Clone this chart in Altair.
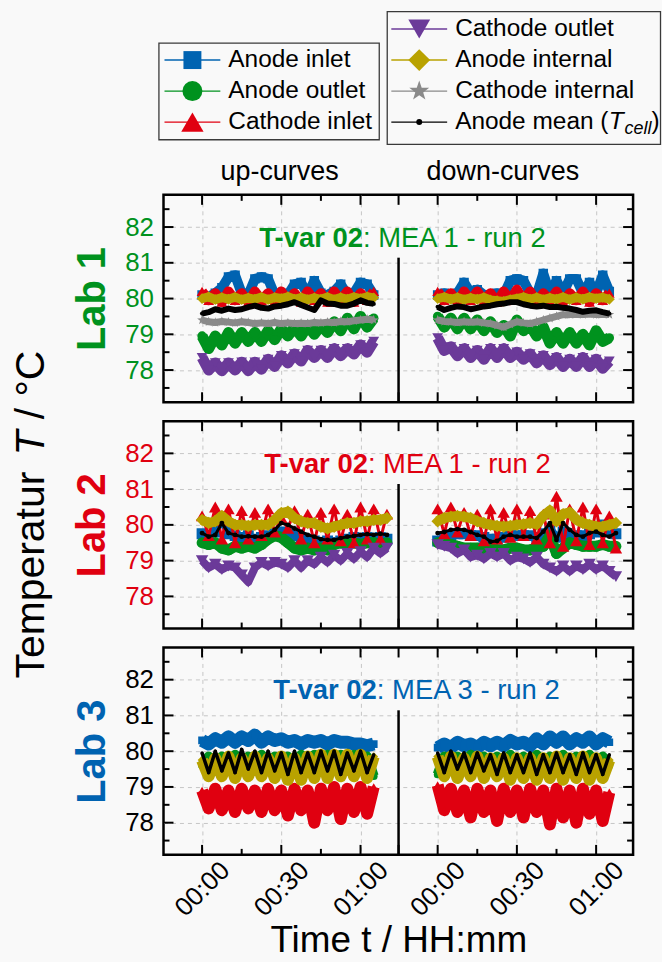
import altair as alt
import pandas as pd

FONT = "Liberation Sans"

# ---------------- series definitions ----------------
SERIES = ["Anode inlet", "Anode outlet", "Cathode inlet", "Cathode outlet",
          "Anode internal", "Cathode internal", "Anode mean"]
LEGEND_LABELS = ["Anode inlet", "Anode outlet", "Cathode inlet", "Cathode outlet",
                 "Anode internal", "Cathode internal", "Anode mean ("]
COLORS = ["#0063b1", "#00921e", "#e00010", "#6b3a99", "#b9a200", "#8a8a8a", "#000000"]
STAR = ("M0,-1L0.235,-0.324L0.951,-0.309L0.38,0.124L0.588,0.809L0,0.4"
        "L-0.588,0.809L-0.38,0.124L-0.951,-0.309L-0.235,-0.324Z")
SHAPES = ["square", "circle", "triangle-up", "triangle-down", "diamond", STAR, "circle"]
SIZE_FACTOR = [1.0, 1.0, 1.3, 1.3, 1.3, 1.2, 0.2]
LEG_SIZES = [324, 400, 500, 480, 480, 440, 36]

LAB_NAMES = ["Lab 1", "Lab 2", "Lab 3"]
LAB_COLORS = ["#00921e", "#e00010", "#0063b1"]
TICK_LABEL_COLORS = ["#00921e", "#e00010", "#000000"]
ANNOT_BOLD = ["T-var 02", "T-var 02", "T-var 02"]
ANNOT_REG = [": MEA 1 - run 2", ": MEA 1 - run 2", ": MEA 3 - run 2"]
HEADERS = ["up-curves", "down-curves"]
Y_TITLE = ["Temperatur", "T", "/ °C"]
X_TITLE = "Time t / HH:mm"

# ---------------- time stamps (minutes) ----------------
T_L1 = [0, 2.5, 5, 7.5, 10, 12.5, 15, 17.5, 20, 22.5, 25, 27.5, 30, 32.5, 35,
        37.5, 40, 42.5, 45, 47.5, 50, 52.5, 55, 57.5, 60, 62.5, 65]
T_L2_UP = [0, 2.5, 5, 7.5, 10, 12.5, 15, 17.5, 20, 22.5, 25, 27.5, 30, 32.5, 35,
           37.5, 40, 42.5, 45, 47.5, 50, 52.5, 55, 57.5, 60, 62.5, 65, 67.5, 70]
T_L2_DOWN = [0, 2.5, 5, 7.5, 10, 12.5, 15, 17.5, 20, 22.5, 25, 27.5, 30, 32.5, 35,
             37.5, 40, 42.5, 45, 47.5, 50, 52.5, 55, 57.5, 60, 62.5, 65, 67.5]
T_L3 = [0, 2.5, 5, 7.5, 10, 12.5, 15, 17.5, 20, 22.5, 25, 27.5, 30, 32.5, 35,
        37.5, 40, 42.5, 45, 47.5, 50, 52.5, 55, 57.5, 60, 62.5, 65]

# ---------------- Lab 1 ----------------
L1_UP_ANODE_IN = [80.1, 80.05, 80.15, 80.3, 80.6, 80.65, 80.15, 80.1, 80.55, 80.6, 80.55, 80.1, 80.15, 80.1,
                  80.4, 80.45, 80.1, 80.5, 80.15, 80.1, 80.2, 80.4, 80.1, 80.15, 80.45, 80.4, 80.1]
L1_UP_ANODE_OUT = [78.95, 78.6, 78.95, 78.7, 79.05, 78.75, 79.05, 78.8, 79.05, 78.8, 79.1, 78.85, 79.15, 78.95,
                   79.2, 78.95, 79.25, 79.0, 79.25, 79.05, 79.35, 79.1, 79.45, 79.15, 79.5, 79.2, 79.45]
L1_UP_CATH_IN = [80.2, 79.95, 80.15, 79.9, 80.2, 79.95, 80.15, 79.9, 80.2, 79.95, 80.15, 79.9, 80.2, 79.95,
                 80.15, 79.9, 80.2, 79.95, 80.15, 79.9, 80.2, 79.95, 80.2, 79.9, 80.15, 79.95, 80.2]
L1_UP_CATH_OUT = [78.35, 78.0, 78.2, 77.98, 78.2, 78.0, 78.22, 77.98, 78.22, 78.02, 78.3, 78.1, 78.4, 78.2,
                  78.45, 78.25, 78.55, 78.35, 78.55, 78.35, 78.6, 78.4, 78.6, 78.45, 78.7, 78.5, 78.8]
L1_UP_ANODE_INT = [80.0, 80.05, 79.97, 80.03, 79.98, 80.04, 79.97, 80.02, 79.98, 80.04, 79.97, 80.03, 80.0, 80.05,
                   79.98, 80.03, 79.97, 80.02, 79.98, 80.04, 79.97, 80.03, 79.98, 80.04, 80.0, 80.05, 80.02]
L1_UP_CATH_INT = [79.4, 79.35, 79.33, 79.36, 79.34, 79.32, 79.35, 79.33, 79.3, 79.32, 79.3, 79.33, 79.3, 79.32,
                  79.3, 79.31, 79.3, 79.33, 79.32, 79.34, 79.33, 79.36, 79.35, 79.38, 79.4, 79.42, 79.4]
L1_UP_MEAN = [79.58, 79.62, 79.7, 79.66, 79.72, 79.68, 79.7, 79.76, 79.8, 79.74, 79.72, 79.78, 79.8, 79.84,
              79.9, 79.82, 79.75, 79.68, 79.95, 79.86, 79.85, 79.8, 79.8, 79.86, 79.95, 79.88, 79.85]

L1_DOWN_ANODE_IN = [80.1, 80.15, 80.1, 80.15, 80.45, 80.15, 80.25, 80.1, 80.1, 80.15, 80.1, 80.5, 80.55, 80.5,
                    80.15, 80.1, 80.7, 80.15, 80.5, 80.15, 80.55, 80.55, 80.15, 80.45, 80.15, 80.65, 80.2]
L1_DOWN_ANODE_OUT = [79.5, 79.2, 79.45, 79.15, 79.45, 79.15, 79.4, 79.1, 79.35, 79.05, 79.25, 78.95, 79.4, 79.1,
                     79.25, 78.95, 79.2, 78.75, 79.05, 78.75, 79.05, 78.75, 79.0, 78.7, 79.1, 78.8, 78.9]
L1_DOWN_CATH_IN = [80.2, 79.95, 80.15, 79.9, 80.2, 79.95, 80.2, 79.95, 80.15, 79.9, 80.2, 79.95, 80.25, 79.95,
                   80.2, 79.9, 80.15, 79.95, 80.2, 79.9, 80.15, 79.95, 80.2, 79.9, 80.15, 79.95, 80.15]
L1_DOWN_CATH_OUT = [78.9, 78.55, 78.65, 78.4, 78.6, 78.35, 78.55, 78.3, 78.6, 78.35, 78.6, 78.35, 78.5, 78.3,
                    78.45, 78.2, 78.4, 78.15, 78.35, 78.1, 78.3, 78.1, 78.35, 78.1, 78.3, 78.05, 78.25]
L1_DOWN_ANODE_INT = [80.0, 80.04, 79.98, 80.03, 79.97, 80.02, 79.98, 80.03, 79.96, 79.94, 79.92, 79.97, 80.0, 80.04,
                     79.98, 80.03, 79.97, 80.02, 79.98, 80.04, 79.97, 80.03, 79.98, 80.04, 80.0, 80.03, 79.98]
L1_DOWN_CATH_INT = [79.4, 79.36, 79.35, 79.33, 79.35, 79.34, 79.35, 79.32, 79.3, 79.25, 79.2, 79.28, 79.35, 79.32,
                    79.3, 79.35, 79.4, 79.45, 79.5, 79.55, 79.55, 79.56, 79.55, 79.57, 79.55, 79.56, 79.55]
L1_DOWN_MEAN = [79.77, 79.68, 79.74, 79.78, 79.76, 79.7, 79.74, 79.78, 79.8, 79.84, 79.86, 79.9, 79.9, 79.84,
                79.8, 79.78, 79.8, 79.76, 79.77, 79.74, 79.72, 79.68, 79.63, 79.66, 79.67, 79.62, 79.58]

# ---------------- Lab 2 ----------------
L2_UP_ANODE_IN = [79.75, 79.7, 79.8, 80.2, 79.75, 79.7, 79.65, 79.7, 79.6, 79.65, 79.7, 79.75, 79.8, 79.75, 79.7,
                  79.65, 79.6, 79.55, 79.5, 79.55, 79.5, 79.55, 79.6, 79.65, 79.6, 79.65, 79.6, 79.65, 79.6]
L2_UP_ANODE_OUT = [79.5, 79.45, 79.5, 79.35, 79.3, 79.4, 79.35, 79.4, 79.35, 79.45, 79.6, 79.7, 79.65, 79.5, 79.35,
                   79.3, 79.35, 79.3, 79.35, 79.3, 79.45, 79.5, 79.45, 79.5, 79.45, 79.5, 79.5, 79.45, 79.5]
L2_UP_CATH_IN = [80.25, 79.7, 80.5, 79.6, 80.45, 79.5, 80.4, 79.6, 80.35, 79.7, 80.45, 79.8, 80.2, 79.9, 80.4,
                 79.6, 80.3, 79.5, 80.35, 79.6, 80.45, 79.55, 80.3, 79.5, 80.5, 79.6, 80.45, 79.6, 80.3]
L2_UP_CATH_OUT = [79.0, 78.8, 78.9, 78.75, 78.85, 78.8, 78.6, 78.4, 78.8, 78.95, 78.85, 78.95, 78.9, 78.8, 79.0,
                  78.8, 79.0, 78.9, 79.1, 78.95, 79.15, 79.0, 79.2, 79.05, 79.25, 79.1, 79.35, 79.2, 79.35]
L2_UP_ANODE_INT = [80.14, 80.05, 80.1, 80.25, 80.1, 80.0, 80.0, 79.97, 80.0, 80.0, 80.0, 80.14, 80.33, 80.37, 80.19,
                   80.1, 80.05, 80.05, 79.95, 79.9, 79.95, 80.0, 80.05, 80.05, 80.1, 80.1, 80.14, 80.14, 80.19]
L2_UP_CATH_INT = []
L2_UP_MEAN = [79.77, 79.67, 79.72, 80.05, 79.77, 79.72, 79.67, 79.68, 79.67, 79.67, 79.72, 79.86, 80.05, 80.0, 79.9,
              79.81, 79.72, 79.67, 79.6, 79.58, 79.58, 79.63, 79.67, 79.69, 79.72, 79.74, 79.72, 79.75, 79.72]

L2_DOWN_ANODE_IN = [79.55, 79.6, 79.7, 79.75, 79.75, 79.7, 79.7, 79.65, 79.6, 79.6, 79.65, 79.7, 79.7, 79.7,
                    79.7, 79.65, 79.75, 79.9, 79.65, 79.8, 79.75, 79.7, 79.7, 79.75, 79.8, 80.0, 79.8, 79.75]
L2_DOWN_ANODE_OUT = [79.5, 79.5, 79.45, 79.4, 79.35, 79.35, 79.35, 79.3, 79.35, 79.3, 79.3, 79.35, 79.35, 79.3,
                     79.3, 79.35, 79.4, 79.7, 79.2, 79.35, 79.5, 79.45, 79.4, 79.4, 79.4, 79.45, 79.4, 79.4]
L2_DOWN_CATH_IN = [80.45, 79.75, 80.5, 79.8, 80.35, 79.7, 80.3, 79.55, 80.45, 79.6, 80.35, 79.65, 80.45, 79.7,
                   80.4, 79.6, 80.3, 79.5, 80.8, 79.4, 80.45, 79.55, 80.5, 79.45, 80.45, 79.5, 80.25, 79.35]
L2_DOWN_CATH_OUT = [79.45, 79.4, 79.35, 79.2, 79.3, 79.1, 79.15, 79.05, 79.2, 79.1, 79.2, 79.0, 79.1, 79.05,
                    78.95, 79.1, 78.9, 78.8, 78.7, 78.85, 78.7, 78.85, 78.75, 78.9, 78.75, 78.85, 78.7, 78.55]
L2_DOWN_ANODE_INT = [80.1, 80.19, 80.23, 80.25, 80.23, 80.19, 80.1, 80.05, 80.0, 79.97, 79.95, 79.97, 80.0, 80.02,
                     80.05, 80.02, 80.25, 80.4, 80.1, 80.3, 80.35, 80.15, 80.05, 80.0, 79.95, 79.95, 80.0, 80.05]
L2_DOWN_CATH_INT = []
L2_DOWN_MEAN = [79.77, 79.8, 79.86, 79.88, 79.86, 79.8, 79.72, 79.67, 79.53, 79.55, 79.67, 79.72, 79.67, 79.67,
                79.67, 79.63, 79.81, 80.05, 79.58, 80.05, 79.86, 79.72, 79.67, 79.77, 79.81, 79.72, 79.67, 79.77]

# ---------------- Lab 3 ----------------
L3_UP_ANODE_IN = [80.3, 80.2, 80.35, 80.25, 80.4, 80.25, 80.4, 80.3, 80.45, 80.25, 80.4, 80.3, 80.35, 80.25,
                  80.3, 80.2, 80.3, 80.25, 80.3, 80.2, 80.3, 80.25, 80.25, 80.2, 80.2, 80.15, 80.2]
L3_UP_ANODE_OUT = [79.6, 79.85, 79.7, 79.85, 79.7, 79.9, 79.7, 79.85, 79.7, 79.9, 79.7, 79.85, 79.7, 79.85,
                   79.7, 79.9, 79.7, 79.9, 79.7, 79.9, 79.7, 79.9, 79.7, 79.9, 79.7, 79.85, 79.3]
L3_UP_CATH_IN = [78.9, 78.4, 78.95, 78.35, 78.9, 78.3, 78.95, 78.4, 78.9, 78.3, 78.95, 78.35, 78.9, 78.2,
                 78.95, 78.35, 78.9, 78.0, 78.95, 78.35, 79.0, 78.1, 78.95, 78.3, 79.0, 78.25, 79.0]
L3_UP_CATH_OUT = []
L3_UP_ANODE_INT = [79.75, 79.3, 79.8, 79.3, 79.85, 79.25, 79.8, 79.3, 79.85, 79.3, 79.8, 79.25, 79.85, 79.2,
                   79.8, 79.2, 79.85, 79.25, 79.9, 79.25, 79.9, 79.3, 79.9, 79.3, 79.9, 79.25, 79.85]
L3_UP_CATH_INT = []
L3_UP_MEAN = [79.95, 79.4, 80.0, 79.45, 79.95, 79.4, 80.05, 79.5, 80.0, 79.4, 80.0, 79.45, 79.95, 79.35,
              80.0, 79.4, 79.95, 79.4, 80.0, 79.45, 80.0, 79.35, 79.95, 79.45, 80.0, 79.4, 79.9]

L3_DOWN_ANODE_IN = [80.1, 80.2, 80.1, 80.25, 80.15, 80.2, 80.1, 80.25, 80.15, 80.25, 80.15, 80.3, 80.2, 80.25,
                    80.15, 80.35, 80.2, 80.4, 80.25, 80.4, 80.2, 80.35, 80.25, 80.4, 80.2, 80.35, 80.25]
L3_DOWN_ANODE_OUT = [79.35, 79.85, 79.7, 79.85, 79.7, 79.9, 79.7, 79.85, 79.7, 79.85, 79.7, 79.9, 79.7, 79.85,
                     79.7, 79.9, 79.7, 79.85, 79.7, 79.9, 79.7, 79.85, 79.7, 79.9, 79.7, 79.85, 79.6]
L3_DOWN_CATH_IN = [79.05, 78.35, 78.95, 78.3, 78.9, 78.15, 78.95, 78.3, 78.9, 78.05, 78.95, 78.3, 78.9, 78.15,
                   78.95, 78.3, 78.9, 77.95, 78.95, 78.15, 78.9, 78.0, 78.95, 78.25, 78.9, 78.05, 78.85]
L3_DOWN_CATH_OUT = []
L3_DOWN_ANODE_INT = [79.85, 79.3, 79.85, 79.25, 79.8, 79.3, 79.85, 79.25, 79.8, 79.3, 79.8, 79.2, 79.8, 79.25,
                     79.8, 79.2, 79.8, 79.25, 79.85, 79.2, 79.8, 79.25, 79.85, 79.2, 79.8, 79.25, 79.75]
L3_DOWN_CATH_INT = []
L3_DOWN_MEAN = [79.95, 79.4, 80.0, 79.5, 79.95, 79.4, 79.95, 79.45, 79.9, 79.35, 79.95, 79.4, 79.9, 79.4,
                79.95, 79.35, 79.9, 79.4, 79.95, 79.4, 79.9, 79.35, 79.95, 79.4, 79.9, 79.35, 79.9]

# ---------------- axes / layout constants ----------------
W, H = 471, 208
XDOM = [-14.6, 163.2]
YDOM = [77.1, 82.9]
DOWN_SHIFT = 89.2      # position of the down-curves' 00:00 on the broken time axis
BREAK = 74.4           # axis break between up- and down-curves
X_MAJOR = [0, 30, 60]
X_MINOR = [15, 45]
Y_MAJOR = [78, 79, 80, 81, 82]
Y_MINOR = [77.5, 78.5, 79.5, 80.5, 81.5, 82.5]

# per-lab drawing styles (line width per series, marker base area)
LAB_LW = [[10, 11, 10, 11, 9, 7, 6],
          [8, 11, 3, 8, 10, 8, 3],
          [13, 10, 12, 12, 12, 12, 3.5]]
LAB_MSIZE = [90, 120, 60]


def build_df(up_t, down_t, up_lists, down_lists):
    rows = []
    for name, up, down in zip(SERIES, up_lists, down_lists):
        if up:
            assert len(up) == len(up_t), name
            rows += [dict(series=name, half="up", t=t, v=v) for t, v in zip(up_t, up)]
        if down:
            assert len(down) == len(down_t), name
            rows += [dict(series=name, half="down", t=t, v=v) for t, v in zip(down_t, down)]
    return pd.DataFrame(rows)


DF1 = build_df(T_L1, T_L1,
               [L1_UP_ANODE_IN, L1_UP_ANODE_OUT, L1_UP_CATH_IN, L1_UP_CATH_OUT, L1_UP_ANODE_INT, L1_UP_CATH_INT, L1_UP_MEAN],
               [L1_DOWN_ANODE_IN, L1_DOWN_ANODE_OUT, L1_DOWN_CATH_IN, L1_DOWN_CATH_OUT, L1_DOWN_ANODE_INT, L1_DOWN_CATH_INT, L1_DOWN_MEAN])
DF2 = build_df(T_L2_UP, T_L2_DOWN,
               [L2_UP_ANODE_IN, L2_UP_ANODE_OUT, L2_UP_CATH_IN, L2_UP_CATH_OUT, L2_UP_ANODE_INT, L2_UP_CATH_INT, L2_UP_MEAN],
               [L2_DOWN_ANODE_IN, L2_DOWN_ANODE_OUT, L2_DOWN_CATH_IN, L2_DOWN_CATH_OUT, L2_DOWN_ANODE_INT, L2_DOWN_CATH_INT, L2_DOWN_MEAN])
DF3 = build_df(T_L3, T_L3,
               [L3_UP_ANODE_IN, L3_UP_ANODE_OUT, L3_UP_CATH_IN, L3_UP_CATH_OUT, L3_UP_ANODE_INT, L3_UP_CATH_INT, L3_UP_MEAN],
               [L3_DOWN_ANODE_IN, L3_DOWN_ANODE_OUT, L3_DOWN_CATH_IN, L3_DOWN_CATH_OUT, L3_DOWN_ANODE_INT, L3_DOWN_CATH_INT, L3_DOWN_MEAN])

X_TICKS = X_MAJOR + [m + DOWN_SHIFT for m in X_MAJOR]
X_MINOR_ALL = X_MINOR + [m + DOWN_SHIFT for m in X_MINOR]

LABEL_EXPR = ("timeFormat(datetime(2000, 0, 1, 0, round(datum.value > %s ? datum.value - %s : datum.value)), '%%H:%%M')"
              % (BREAK, DOWN_SHIFT))


def x_axis(show):
    kw = dict(values=X_TICKS, grid=True, gridDash=[4, 4], gridColor="#c6c6c6", gridWidth=1,
              ticks=False, domain=False, labels=show)
    if show:
        kw.update(title=X_TITLE, labelExpr=LABEL_EXPR, labelAngle=315, labelAlign="center",
                  labelBaseline="middle", labelPadding=34, labelFontSize=26, labelColor="black",
                  titleFontSize=37, titleFontWeight="normal", titleColor="black", titlePadding=2)
    else:
        kw.update(title=None)
    return alt.Axis(**kw)


def y_axis(i):
    return alt.Axis(values=Y_MAJOR, grid=True, gridDash=[4, 4], gridColor="#c6c6c6", gridWidth=1,
                    ticks=False, domain=False, labelFontSize=26, labelColor=TICK_LABEL_COLORS[i],
                    labelPadding=10, title=LAB_NAMES[i], titleColor=LAB_COLORS[i], titleFontSize=40,
                    titleFontWeight="bold", titlePadding=12)


def panel(i, df, annot_x, show_x, extra=None):
    xa, ya = x_axis(show_x), y_axis(i)
    lws, msize = LAB_LW[i], LAB_MSIZE[i]

    def X(f):
        return alt.X(f"{f}:Q", scale=alt.Scale(domain=XDOM, nice=False, zero=False), axis=xa)

    def Y(f):
        return alt.Y(f"{f}:Q", scale=alt.Scale(domain=YDOM, nice=False, zero=False), axis=ya)

    layers = []
    for k, name in enumerate(SERIES):
        sub = df[df.series == name]
        if sub.empty:
            continue
        base = alt.Chart(sub).transform_calculate(
            xpos=f"datum.t + (datum.half == 'down' ? {DOWN_SHIFT} : 0)")
        layers.append(base.mark_line(color=COLORS[k], strokeWidth=lws[k], clip=True, strokeJoin="round")
                      .encode(x=X("xpos"), y=Y("v"), detail="half:N"))
        layers.append(base.mark_point(shape=SHAPES[k], filled=True, opacity=1, color=COLORS[k],
                                      size=msize * SIZE_FACTOR[k], clip=True)
                      .encode(x=X("xpos"), y=Y("v")))

    ymaj = alt.Chart(pd.DataFrame({"v": Y_MAJOR}))
    ymin = alt.Chart(pd.DataFrame({"v": Y_MINOR}))
    xmaj = alt.Chart(pd.DataFrame({"v": X_TICKS + [BREAK]}))
    xmin = alt.Chart(pd.DataFrame({"v": X_MINOR_ALL}))
    tk = dict(color="black", strokeWidth=2)
    for src, ln in ((ymaj, 10), (ymin, 6)):
        layers.append(src.mark_rule(**tk).encode(y=Y("v"), x=alt.value(0), x2=alt.value(ln)))
        layers.append(src.mark_rule(**tk).encode(y=Y("v"), x=alt.value(W), x2=alt.value(W - ln)))
    for src, ln in ((xmaj, 10), (xmin, 6)):
        layers.append(src.mark_rule(**tk).encode(x=X("v"), y=alt.value(0), y2=alt.value(ln)))
        layers.append(src.mark_rule(**tk).encode(x=X("v"), y=alt.value(H), y2=alt.value(H - ln)))
    layers.append(alt.Chart(pd.DataFrame({"v": [BREAK]})).mark_rule(color="black", strokeWidth=2.5)
                  .encode(x=X("v"), y=alt.value(63), y2=alt.value(H)))
    layers.append(alt.Chart(pd.DataFrame({"s": [ANNOT_BOLD[i]]}))
                  .mark_text(align="right", baseline="middle", fontSize=27.5, fontWeight="bold",
                             color=LAB_COLORS[i])
                  .encode(x=alt.value(annot_x), y=alt.value(44), text="s:N"))
    layers.append(alt.Chart(pd.DataFrame({"s": [ANNOT_REG[i]]}))
                  .mark_text(align="left", baseline="middle", fontSize=27.5, color=LAB_COLORS[i])
                  .encode(x=alt.value(annot_x), y=alt.value(44), text="s:N"))
    if extra:
        layers += extra
    return alt.layer(*layers).properties(
        width=W, height=H, view=alt.ViewBackground(stroke="black", strokeWidth=2.5))


# big y title (placed beside the middle panel), pieces so the symbol T is italic
YT_FS = 41
yt_layers = []
for txt, dx, style in ((Y_TITLE[0], 0, "normal"), (Y_TITLE[1], 223.5, "italic"), (Y_TITLE[2], 260, "normal")):
    yt_layers.append(alt.Chart(pd.DataFrame({"s": [txt]}))
                     .mark_text(angle=270, align="left", baseline="top", fontSize=YT_FS,
                                fontStyle=style, color="black", dx=dx)
                     .encode(x=alt.value(-151.6), y=alt.value(258), text="s:N"))

lab1 = panel(0, DF1, 200, False)
lab2 = panel(1, DF2, 205, False, extra=yt_layers)
lab3 = panel(2, DF3, 214, True)

# ---------------- custom legend (two boxes) ----------------
leg_df = pd.DataFrame({
    "name": SERIES,
    "label": LEGEND_LABELS,
    "col": [0 if k < 3 else 1 for k in range(len(SERIES))],
    "row": [k + 1 if k < 3 else k - 3 for k in range(len(SERIES))],
})
LX = alt.X("col:Q", scale=alt.Scale(domain=[0, 1], range=[29, 256.5]), axis=None)
LY = alt.Y("row:Q", scale=alt.Scale(domain=[0, 3], range=[26.7, 120]), axis=None)
LC = alt.Color("name:N", scale=alt.Scale(domain=SERIES, range=COLORS), legend=None)
LS = alt.Shape("name:N", scale=alt.Scale(domain=SERIES, range=SHAPES), legend=None)
LZ = alt.Size("name:N", scale=alt.Scale(type="ordinal", domain=SERIES, range=LEG_SIZES), legend=None)
LEG_FS = 24.5

leg = alt.Chart(leg_df)
mean_only = leg.transform_filter(alt.datum.name == "Anode mean")
box = alt.Chart(pd.DataFrame({"b": [0]}))
legend_layers = [
    box.mark_rect(filled=False, stroke="#3a3a3a", strokeWidth=1.3)
       .encode(x=alt.value(-4.6), x2=alt.value(216.4), y=alt.value(40.7), y2=alt.value(137.7)),
    box.mark_rect(filled=False, stroke="#3a3a3a", strokeWidth=1.3)
       .encode(x=alt.value(224.4), x2=alt.value(498.5), y=alt.value(9.3), y2=alt.value(142.3)),
    leg.mark_tick(orient="horizontal", size=56, thickness=1.4, opacity=1).encode(x=LX, y=LY, color=LC),
    leg.mark_point(filled=True, opacity=1).encode(x=LX, y=LY, color=LC, shape=LS, size=LZ),
    leg.mark_text(align="left", baseline="middle", dx=36, fontSize=LEG_FS, color="black")
       .encode(x=LX, y=LY, text="label:N"),
    mean_only.mark_text(align="left", baseline="middle", dx=190, fontSize=LEG_FS, fontStyle="italic",
                        color="black").encode(x=LX, y=LY, text=alt.value("T")),
    mean_only.mark_text(align="left", baseline="middle", dx=206, dy=7, fontSize=18, fontStyle="italic",
                        color="black").encode(x=LX, y=LY, text=alt.value("cell")),
    mean_only.mark_text(align="left", baseline="middle", dx=233, fontSize=LEG_FS,
                        color="black").encode(x=LX, y=LY, text=alt.value(")")),
    alt.Chart(pd.DataFrame({"s": [HEADERS[0]]})).mark_text(fontSize=27, color="black", baseline="middle")
       .encode(x=alt.value(116.4), y=alt.value(170), text="s:N"),
    alt.Chart(pd.DataFrame({"s": [HEADERS[1]]})).mark_text(fontSize=27, color="black", baseline="middle")
       .encode(x=alt.value(340.4), y=alt.value(170), text="s:N"),
]
legend = alt.layer(*legend_layers).properties(
    width=W, height=174, view=alt.ViewBackground(stroke="transparent"))

chart = (alt.vconcat(legend, lab1, lab2, lab3, spacing=19, bounds="flush")
         .properties(padding={"left": 10, "top": 0, "right": 0, "bottom": 0}, background="#f9f9f9")
         .configure_axis(labelFont=FONT, titleFont=FONT)
         .configure_text(font=FONT))

chart.save("out.html", embed_options={"renderer": "svg", "actions": False})
